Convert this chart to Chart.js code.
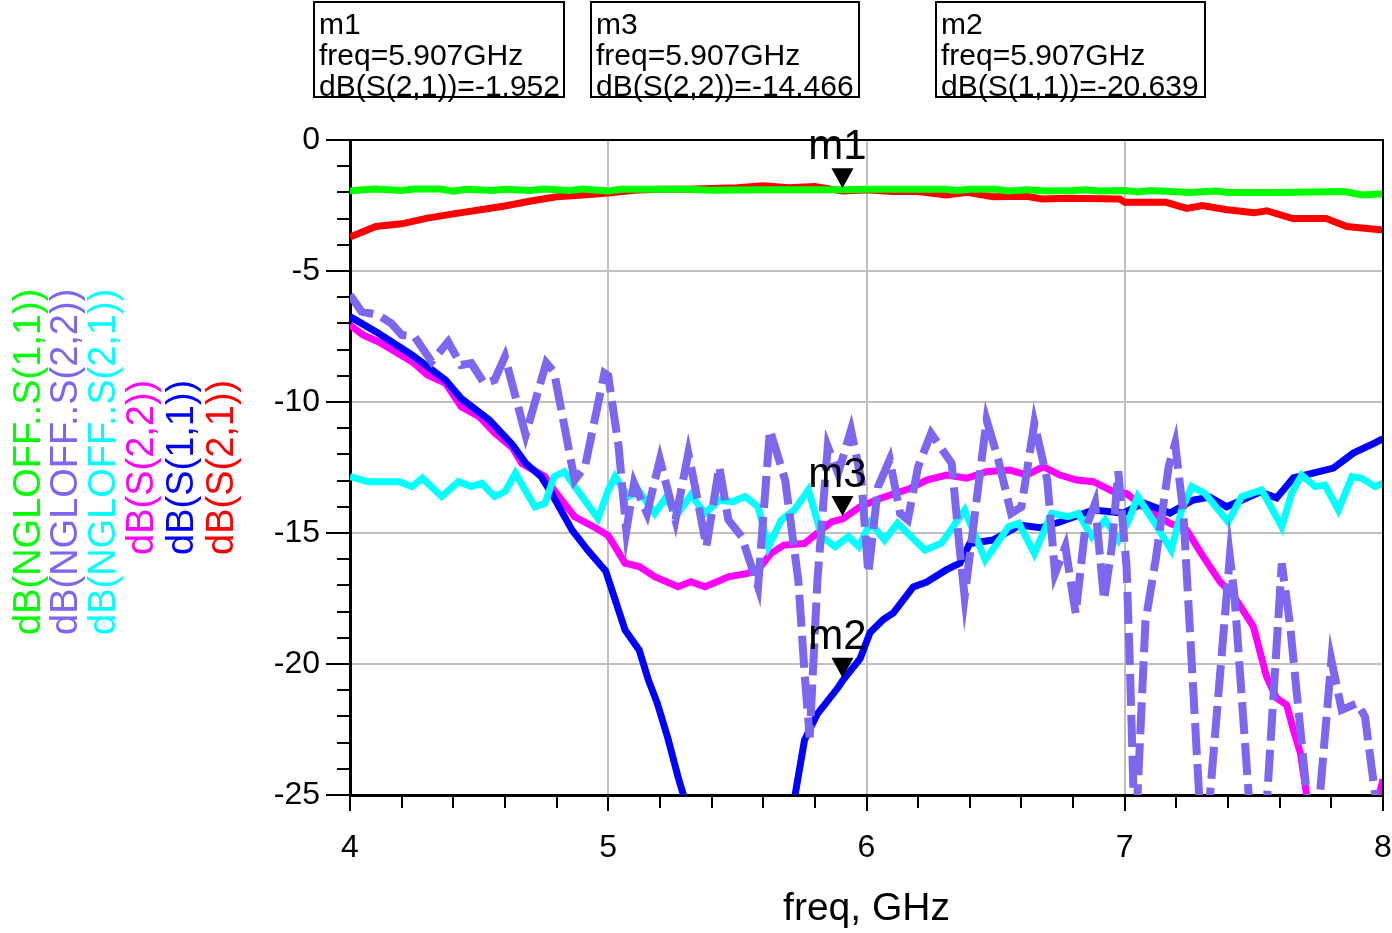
<!DOCTYPE html>
<html>
<head>
<meta charset="utf-8">
<script src="https://cdn.jsdelivr.net/npm/chart.js@4.4.1/dist/chart.umd.min.js"></script>
<style>
  html, body { margin: 0; padding: 0; background: #fff; }
  #wrap { position: relative; width: 1392px; height: 933px; font-family: "Liberation Sans", Arial, sans-serif; }
  #chart { position: absolute; left: 0; top: 0; }
  .mbox { position: absolute; top: 1px; height: 97px; border: 2px solid #000; box-sizing: border-box;
          font-size: 30px; line-height: 31px; padding: 5px 0 0 4px; white-space: nowrap; color: #000; }
  .leg { position: absolute; transform-origin: 0 0; transform: rotate(-90deg); white-space: nowrap;
         font-size: 38px; line-height: 38px; }
</style>
</head>
<body>
<div id="wrap">
  <canvas id="chart" width="1392" height="933"></canvas>

  <div class="mbox" style="left:313px;width:252px">m1<br>freq=5.907GHz<br>dB(S(2,1))=-1.952</div>
  <div class="mbox" style="left:590px;width:270px">m3<br>freq=5.907GHz<br>dB(S(2,2))=-14.466</div>
  <div class="mbox" style="left:935px;width:271px">m2<br>freq=5.907GHz<br>dB(S(1,1))=-20.639</div>

  <div class="leg" style="left:8px;top:635px;color:#00ff00">dB(NGLOFF..S(1,1))</div>
  <div class="leg" style="left:45px;top:635px;color:#7b68ee">dB(NGLOFF..S(2,2))</div>
  <div class="leg" style="left:83px;top:635px;color:#00ffff">dB(NGLOFF..S(2,1))</div>
  <div class="leg" style="left:121px;top:555px;color:#ff00ff">dB(S(2,2))</div>
  <div class="leg" style="left:161px;top:555px;color:#0000ff">dB(S(1,1))</div>
  <div class="leg" style="left:201px;top:555px;color:#ff0000">dB(S(2,1))</div>
</div>

<script>
// frequency axis (GHz) and dB axis
const freqTicks = [4, 5, 6, 7, 8];
const dbTicks = [0, -5, -10, -15, -20, -25];

// dB(S(2,1))
const s21Freq = [4.0, 4.1, 4.2, 4.3, 4.4, 4.5, 4.6, 4.7, 4.8, 4.9, 5.0, 5.1, 5.2, 5.3, 5.4, 5.5, 5.6, 5.7, 5.8, 5.907,
  6.0, 6.1, 6.2, 6.31, 6.39, 6.49, 6.62, 6.68, 6.78, 6.98, 7.0, 7.16, 7.24, 7.30, 7.39, 7.5, 7.55, 7.65, 7.78, 7.86, 8.0];
const s21dB = [-3.7, -3.3, -3.2, -2.98, -2.82, -2.67, -2.52, -2.33, -2.17, -2.1, -2.02, -1.92, -1.88, -1.88, -1.85, -1.82, -1.75, -1.82, -1.78, -1.95,
  -1.9, -1.97, -1.97, -2.1, -2.0, -2.17, -2.15, -2.25, -2.22, -2.25, -2.38, -2.38, -2.61, -2.5, -2.65, -2.78, -2.7, -3.0, -3.0, -3.3, -3.44];

// dB(S(1,1))
const s11Freq = [4.0, 4.11, 4.24, 4.37, 4.43, 4.54, 4.63, 4.68, 4.74, 4.78, 4.86, 4.92, 4.99, 5.065, 5.12, 5.155, 5.19, 5.23, 5.27, 5.30,
  5.4, 5.5, 5.62, 5.72, 5.76, 5.81, 5.89, 5.907, 5.975, 6.014, 6.065, 6.104, 6.181, 6.233, 6.31, 6.362, 6.40, 6.49, 6.594, 6.672,
  6.749, 6.878, 6.995, 7.072, 7.175, 7.265, 7.33, 7.395, 7.524, 7.588, 7.653, 7.808, 7.885, 7.969, 8.0];
const s11dB = [-6.74, -7.38, -8.2, -9.16, -9.86, -10.69, -11.64, -12.33, -12.85, -13.48, -14.89, -15.65, -16.45, -18.7, -19.47, -20.6, -21.5, -22.8, -24.3, -25.3,
  -28, -29, -27.5, -25.2, -22.9, -21.9, -20.9, -20.64, -19.8, -18.8, -18.3, -18.05, -17.06, -16.87, -16.4, -16.15, -15.4, -15.27, -14.7, -14.8,
  -14.58, -14.12, -14.24, -13.85, -14.24, -13.74, -13.63, -14.0, -13.44, -13.66, -12.9, -12.52, -11.95, -11.56, -11.4];

// dB(S(2,2))
const s22Freq = [4.0, 4.05, 4.11, 4.24, 4.30, 4.37, 4.43, 4.50, 4.56, 4.63, 4.665, 4.755, 4.79, 4.87, 4.95, 5.0, 5.065, 5.12, 5.18, 5.27,
  5.32, 5.375, 5.465, 5.54, 5.58, 5.63, 5.68, 5.76, 5.81, 5.865, 5.907, 5.975, 6.052, 6.168, 6.233, 6.31, 6.388, 6.465, 6.556, 6.62,
  6.685, 6.749, 6.814, 6.878, 6.956, 7.007, 7.072, 7.175, 7.24, 7.304, 7.369, 7.42, 7.498, 7.549, 7.588, 7.627, 7.653, 7.68, 7.75, 7.9,
  7.98, 8.0];
const s22dB = [-7.06, -7.44, -7.7, -8.46, -8.97, -9.29, -10.18, -10.56, -11.18, -11.76, -12.34, -12.85, -13.36, -14.38, -14.8, -15.1, -16.15, -16.28, -16.67, -17.05,
  -16.86, -17.05, -16.67, -16.54, -16.4, -15.78, -15.46, -15.4, -15.0, -14.57, -14.47, -14.0, -13.68, -13.3, -12.98, -12.79, -12.91, -12.66, -12.6, -12.79,
  -12.47, -12.79, -12.98, -13.04, -13.42, -13.49, -14.0, -14.63, -14.89, -15.9, -16.86, -17.37, -18.57, -20.48, -21.3, -21.56, -22.52, -23.4, -28, -27.5,
  -25.2, -24.4];

// dB(NGLOFF..S(1,1))
const ngS11Freq = [4.0, 4.05, 4.1, 4.2, 4.25, 4.35, 4.4, 4.45, 4.55, 4.6, 4.7, 4.75, 4.85, 4.9, 5.0, 5.05, 5.3, 5.4, 5.6, 5.9,
  6.0, 6.3, 6.35, 6.4, 6.5, 6.55, 6.62, 6.7, 6.8, 6.85, 6.9, 7.0, 7.05, 7.1, 7.25, 7.35, 7.4, 7.6, 7.85, 7.92, 8.0];
const ngS11dB = [-1.95, -1.9, -1.87, -1.93, -1.87, -1.87, -1.95, -1.88, -1.93, -1.88, -1.93, -1.87, -1.93, -1.87, -1.95, -1.88, -1.88, -1.92, -1.9, -1.9,
  -1.88, -1.88, -1.93, -1.88, -1.88, -1.95, -1.9, -1.95, -1.93, -1.9, -1.95, -1.93, -1.98, -1.93, -2.0, -1.95, -2.0, -2.0, -1.97, -2.1, -2.05];

// dB(NGLOFF..S(2,1))
const ngS21Freq = [4.0, 4.07, 4.19, 4.24, 4.28, 4.355, 4.42, 4.47, 4.51, 4.56, 4.60, 4.64, 4.716, 4.755, 4.79, 4.83, 4.88, 4.96, 5.0, 5.026,
  5.078, 5.116, 5.18, 5.22, 5.27, 5.32, 5.375, 5.43, 5.48, 5.53, 5.58, 5.62, 5.67, 5.72, 5.775, 5.827, 5.878, 5.93, 5.97, 6.015,
  6.07, 6.12, 6.226, 6.29, 6.38, 6.46, 6.55, 6.59, 6.65, 6.717, 6.78, 6.82, 6.872, 6.924, 6.975, 7.014, 7.05, 7.117, 7.18, 7.22,
  7.26, 7.31, 7.40, 7.453, 7.53, 7.608, 7.646, 7.685, 7.737, 7.775, 7.827, 7.88, 7.917, 7.97, 8.0];
const ngS21dB = [-12.85, -13.04, -13.04, -13.23, -12.91, -13.61, -13.04, -13.23, -13.1, -13.61, -13.42, -12.72, -14.0, -13.87, -12.85, -12.66, -13.36, -14.44, -13.36, -12.85,
  -13.61, -13.36, -14.25, -13.68, -14.25, -13.55, -14.25, -13.74, -13.81, -13.61, -14.0, -15.52, -14.5, -14.12, -13.36, -15.14, -15.52, -15.14, -15.52, -14.6,
  -15.27, -14.63, -15.65, -15.39, -14.12, -16.03, -14.76, -14.63, -15.78, -14.25, -14.38, -14.25, -15.14, -14.5, -15.27, -14.55, -13.61, -14.63, -15.65, -14.12,
  -13.23, -13.48, -14.57, -13.61, -13.36, -14.76, -13.48, -12.79, -13.23, -13.17, -14.12, -12.85, -12.91, -13.23, -13.1];

// dB(NGLOFF..S(2,2))
const ngS22Freq = [4.0, 4.045, 4.11, 4.16, 4.20, 4.25, 4.316, 4.38, 4.43, 4.47, 4.52, 4.56, 4.60, 4.68, 4.76, 4.79, 4.87, 4.91, 4.985, 5.0,
  5.04, 5.07, 5.10, 5.15, 5.20, 5.26, 5.31, 5.336, 5.38, 5.43, 5.465, 5.517, 5.58, 5.626, 5.685, 5.736, 5.762, 5.78, 5.81, 5.85,
  5.89, 5.94, 5.98, 6.007, 6.045, 6.09, 6.13, 6.16, 6.20, 6.25, 6.33, 6.36, 6.38, 6.42, 6.465, 6.51, 6.56, 6.60, 6.65, 6.70,
  6.73, 6.77, 6.81, 6.846, 6.885, 6.92, 6.95, 6.975, 7.007, 7.02, 7.04, 7.08, 7.12, 7.17, 7.195, 7.227, 7.305, 7.407, 7.425, 7.48,
  7.52, 7.608, 7.64, 7.705, 7.73, 7.80, 7.84, 7.90, 7.93, 7.97, 8.0];
const ngS22dB = [-5.92, -6.55, -6.68, -7.0, -7.44, -7.5, -8.46, -7.7, -8.59, -8.52, -9.29, -9.16, -8.27, -11.26, -8.5, -8.85, -12.98, -12.47, -8.9, -9.0,
  -11.7, -14.9, -13.1, -14.25, -12.2, -14.5, -11.96, -13.23, -15.52, -12.47, -14.5, -15.14, -17.05, -11.07, -12.98, -16.8, -20.6, -22.8, -16.8, -11.7,
  -12.72, -11.07, -12.98, -16.53, -13.23, -12.2, -14.25, -14.5, -12.47, -11.2, -12.34, -15.52, -17.43, -14.25, -10.69, -12.2, -14.25, -14.0, -10.81, -12.98,
  -16.54, -15.52, -18.07, -14.89, -13.87, -17.56, -15.52, -12.65, -16.28, -20.1, -27, -18.4, -16.0, -12.47, -11.58, -14.25, -28, -15.9, -17.4, -25,
  -30, -16.16, -18.5, -25, -28, -19.85, -21.75, -21.5, -22.0, -25, -28];

// markers m1, m3, m2
const markerNames = ['m1', 'm3', 'm2'];
const markerFreq = [5.907, 5.907, 5.907];
const markerValues = [-1.952, -14.466, -20.639];

function pts(f, v) { return f.map((x, i) => ({ x: x, y: v[i] })); }

const FONT = '"Liberation Sans", Arial, sans-serif';
const GRID = '#c0c0c0';

// minor ticks, frame and marker triangles
const plotExtras = {
  id: 'plotExtras',
  afterDatasetsDraw(chart) {
    const { ctx, scales: { x, y } } = chart;
    ctx.save();
    ctx.fillStyle = '#000';
    ctx.font = '42px ' + FONT;
    ctx.textAlign = 'center';
    ctx.textBaseline = 'alphabetic';
    markerNames.forEach((name, i) => {
      const px = x.getPixelForValue(markerFreq[i]);
      const py = y.getPixelForValue(markerValues[i]) - 3;
      ctx.beginPath();
      ctx.moveTo(px, py);
      ctx.lineTo(px - 11, py - 20);
      ctx.lineTo(px + 11, py - 20);
      ctx.closePath();
      ctx.fill();
      ctx.fillText(name, px - 5, py - 29);
    });
    ctx.restore();
  },
  afterDraw(chart) {
    const { ctx, chartArea: a, scales: { x, y } } = chart;
    ctx.save();
    ctx.strokeStyle = '#000';
    ctx.lineWidth = 2;
    ctx.beginPath();
    for (let v = -1; v > -25; v--) {
      if (v % 5 === 0) continue;
      const py = Math.round(y.getPixelForValue(v));
      ctx.moveTo(a.left, py);
      ctx.lineTo(a.left - 13, py);
    }
    for (let i = 1; i < 20; i++) {
      if (i % 5 === 0) continue;
      const px = Math.round(x.getPixelForValue(4 + i * 0.2));
      ctx.moveTo(px, a.bottom);
      ctx.lineTo(px, a.bottom + 13);
    }
    ctx.stroke();
    ctx.beginPath();
    ctx.moveTo(a.left, a.top);
    ctx.lineTo(a.right, a.top);
    ctx.lineTo(a.right, a.bottom);
    ctx.stroke();
    ctx.restore();
  }
};

function line(label, f, v, color, order, dash) {
  return {
    label: label,
    data: pts(f, v),
    borderColor: color,
    backgroundColor: color,
    borderWidth: dash ? 8 : 7,
    borderDash: dash || [],
    borderCapStyle: 'butt',
    pointRadius: 0,
    tension: 0,
    clip: 0,
    order: order
  };
}

new Chart(document.getElementById('chart'), {
  type: 'line',
  data: {
    datasets: [
      line('dB(NGLOFF..S(1,1))', ngS11Freq, ngS11dB, '#00ff00', 1),
      line('dB(NGLOFF..S(2,2))', ngS22Freq, ngS22dB, '#7b68ee', 2, [32, 9]),
      line('dB(NGLOFF..S(2,1))', ngS21Freq, ngS21dB, '#00ffff', 3),
      line('dB(S(1,1))', s11Freq, s11dB, '#0000ff', 4),
      line('dB(S(2,2))', s22Freq, s22dB, '#ff00ff', 5),
      line('dB(S(2,1))', s21Freq, s21dB, '#ff0000', 6)
    ]
  },
  options: {
    responsive: false,
    animation: false,
    events: [],
    layout: { padding: { top: 140, right: 9, bottom: 0, left: 0 } },
    plugins: { legend: { display: false }, tooltip: { enabled: false } },
    scales: {
      x: {
        type: 'linear',
        min: freqTicks[0],
        max: freqTicks[freqTicks.length - 1],
        afterFit(s) { s.height = 138; s.paddingLeft = 0; s.paddingRight = 0; },
        afterBuildTicks(s) { s.ticks = freqTicks.map(v => ({ value: v })); },
        ticks: { font: { size: 32, family: FONT }, color: '#000', padding: 18 },
        grid: {
          color: c => (c.tick && (c.tick.value === 4 || c.tick.value === 8)) ? 'rgba(0,0,0,0)' : GRID,
          lineWidth: 2,
          tickColor: '#000',
          tickLength: 16,
          tickWidth: 2
        },
        border: { color: '#000', width: 3 },
        title: { display: true, text: 'freq, GHz', font: { size: 39, family: FONT }, color: '#000', padding: 0 }
      },
      y: {
        min: dbTicks[dbTicks.length - 1],
        max: dbTicks[0],
        afterFit(s) { s.width = 350; s.paddingTop = 0; s.paddingBottom = 0; },
        afterBuildTicks(s) { s.ticks = dbTicks.map(v => ({ value: v })); },
        ticks: { font: { size: 32, family: FONT }, color: '#000', padding: 6 },
        grid: {
          color: c => (c.tick && (c.tick.value === 0 || c.tick.value === -25)) ? 'rgba(0,0,0,0)' : GRID,
          lineWidth: 2,
          tickColor: '#000',
          tickLength: 24,
          tickWidth: 2
        },
        border: { color: '#000', width: 3 }
      }
    }
  },
  plugins: [plotExtras]
});
</script>
</body>
</html>
